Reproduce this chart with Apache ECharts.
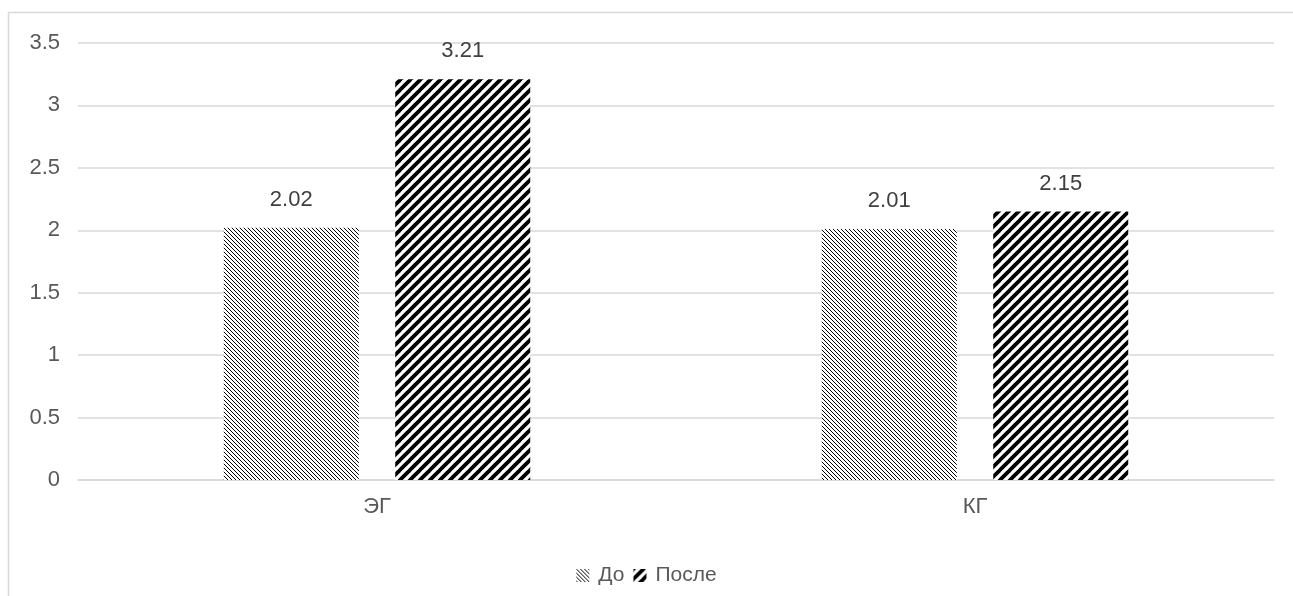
<!DOCTYPE html>
<html><head><meta charset="utf-8">
<script src="https://cdn.jsdelivr.net/npm/echarts@6/dist/echarts.min.js"></script>
<style>html,body{margin:0;padding:0;background:#fff}#c{width:1293px;height:596px}</style>
</head><body><div id="c"></div>
<script>
const categories = ['ЭГ', 'КГ'];
const seriesNames = ['До', 'После'];
const valuesBefore = [2.02, 2.01];
const valuesAfter = [3.21, 2.15];

function makePattern(kind) {
  const c = document.createElement('canvas');
  if (kind === 'thin') {
    const s = 4; c.width = s; c.height = s;
    const g = c.getContext('2d');
    g.fillStyle = '#fff'; g.fillRect(0,0,s,s);
    g.fillStyle = '#000';
    for (let i = 0; i < s; i++) { g.fillRect(i, i, 1, 1); }
  } else {
    const s = 10; c.width = s; c.height = s;
    const g = c.getContext('2d');
    g.fillStyle = '#fff'; g.fillRect(0,0,s,s);
    g.strokeStyle = '#000'; g.lineWidth = 3.8;
    for (let k = -1; k <= 1; k++) {
      g.beginPath(); g.moveTo(k*s - 1, s + 1); g.lineTo(k*s + s + 1, -1); g.stroke();
    }
  }
  return {image: c, repeat: 'repeat'};
}
const patThin = makePattern('thin');
const patBold = makePattern('bold');

const FONT = 'Liberation Sans, Arial, sans-serif';
const chart = echarts.init(document.getElementById('c'), null, {renderer: 'canvas'});
const labelStyle = {show: true, position: 'top', distance: 17, color: '#404040', fontSize: 22, fontFamily: FONT, formatter: p => p.value.toFixed(2)};
chart.setOption({
  animation: false,
  textStyle: {fontFamily: FONT},
  graphic: [{type: 'rect', shape: {x: 8.5, y: 12.5, width: 1300, height: 600}, style: {fill: 'none', stroke: '#d9d9d9', lineWidth: 1.5}, silent: true}],
  grid: {left: 78, right: 19, top: 43, bottom: 116},
  legend: {top: 560, left: 'center', itemWidth: 13, itemHeight: 13, itemGap: 9,
    textStyle: {fontSize: 21, color: '#595959', padding: [0,0,0,4]},
    data: [{name: seriesNames[0], icon: 'rect'}, {name: seriesNames[1], icon: 'rect'}]},
  xAxis: {type: 'category', data: categories,
    axisLine: {lineStyle: {color: '#d9d9d9', width: 1.5}}, axisTick: {show: false},
    axisLabel: {fontSize: 22, color: '#595959', margin: 16}},
  yAxis: {type: 'value', min: 0, max: 3.5, interval: 0.5,
    axisLine: {show: false}, axisTick: {show: false},
    splitLine: {lineStyle: {color: '#d9d9d9', width: 1.5}},
    axisLabel: {fontSize: 22, color: '#595959', margin: 18, formatter: v => String(v)}},
  series: [
    {name: seriesNames[0], type: 'bar', data: valuesBefore, barWidth: 135, barGap: '27%', itemStyle: {color: patThin}, label: labelStyle},
    {name: seriesNames[1], type: 'bar', data: valuesAfter, barWidth: 135, itemStyle: {color: patBold}, label: labelStyle}
  ]
});
</script></body></html>
